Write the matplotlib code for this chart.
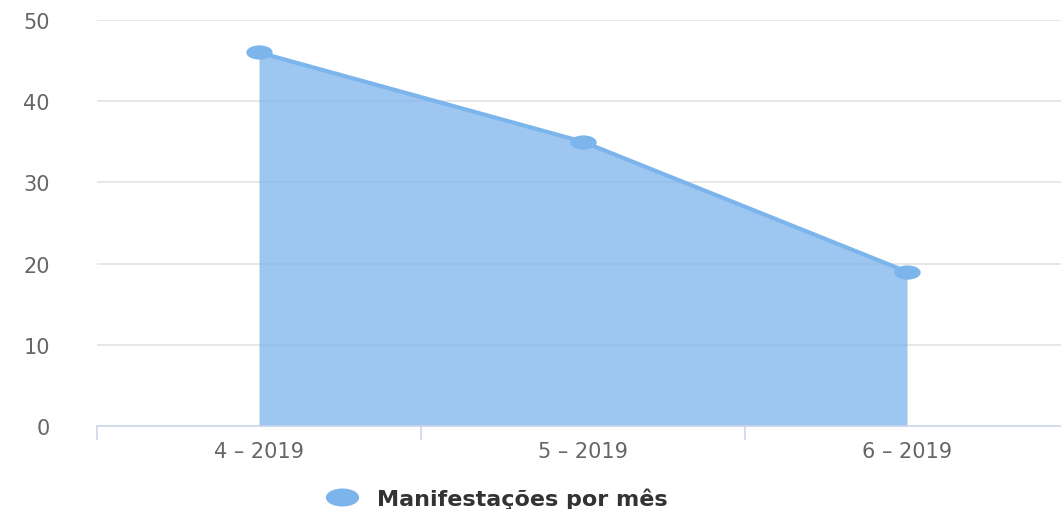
import matplotlib
matplotlib.use("Agg")
import matplotlib.pyplot as plt
from matplotlib.path import Path
from matplotlib.transforms import Affine2D
from matplotlib.lines import Line2D

categories = ["4 – 2019", "5 – 2019", "6 – 2019"]
values = [46, 35, 19]
series_name = "Manifestações por mês"
y_ticks = [0, 10, 20, 30, 40, 50]

W, H = 1061, 510
fig = plt.figure(figsize=(W / 100, H / 100), dpi=100)
left, right = 97 / W, 1069 / W
bottom, top = (H - 427) / H, (H - 21) / H
ax = fig.add_axes([left, bottom, right - left, top - bottom])

base = "#7cb5ec"
x = list(range(len(categories)))

ax.fill_between(x, 0, values, color=base, alpha=0.75, linewidth=0, zorder=2)
ell = Path.unit_circle().transformed(Affine2D().scale(1.85, 1.0))
ax.plot(x, values, color=base, linewidth=3, zorder=3,
        marker=ell, markersize=19, markerfacecolor=base, markeredgewidth=0,
        solid_joinstyle="round")

ax.set_xlim(-0.5, len(categories) - 0.5)
ax.set_ylim(0, 50)

for s in ["top", "right", "left"]:
    ax.spines[s].set_visible(False)
ax.spines["bottom"].set_color("#ccd6eb")
ax.spines["bottom"].set_linewidth(1.2)

ax.set_yticks(y_ticks)
ax.set_yticklabels([str(v) for v in y_ticks])
ax.yaxis.grid(True, color="#e3e3e3", linewidth=1.2, zorder=0)
ax.set_axisbelow(True)
ax.tick_params(axis="y", length=0, pad=34, labelsize=15, labelcolor="#666666")

ax.set_xticks(x)
ax.set_xticklabels(categories)
ax.set_xticks([i - 0.5 for i in range(len(categories) + 1)], minor=True)
ax.tick_params(axis="x", which="major", length=0, pad=11, labelsize=15,
               labelcolor="#666666")
ax.tick_params(axis="x", which="minor", length=10, width=1.2, color="#ccd6eb",
               direction="out")

for lbl in ax.get_xticklabels() + ax.get_yticklabels():
    lbl.set_family("DejaVu Sans")

handle = Line2D([], [], linestyle="none", marker=ell, markersize=24,
                markerfacecolor=base, markeredgewidth=0)
fig.legend([handle], [series_name], loc="center", bbox_to_anchor=(497 / W, 1 - 499 / H),
           frameon=False, handletextpad=0.9, handlelength=1.4,
           prop={"family": "DejaVu Sans", "weight": "bold", "size": 16},
           labelcolor="#333333")

fig.savefig("out.png", dpi=100)
